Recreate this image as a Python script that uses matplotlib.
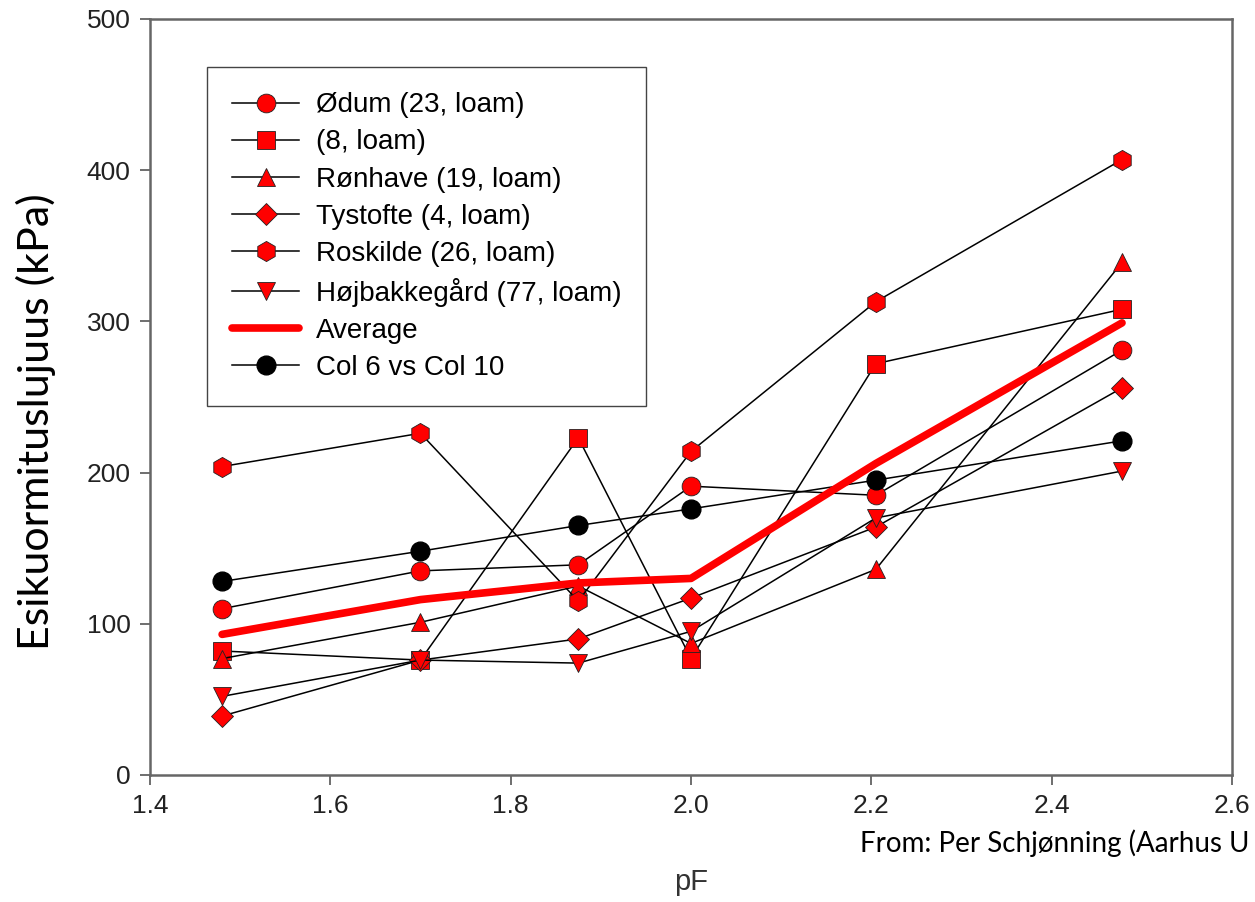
import numpy as np
import matplotlib
matplotlib.use('Agg')
import matplotlib.pyplot as plt

# pF values (x)
pf = [1.48, 1.70, 1.875, 2.0, 2.205, 2.478]

# esikuormituslujuus (kPa) per site
odum = [110, 135, 139, 191, 185, 281]
loam8 = [82, 76, 223, 77, 272, 308]
ronhave = [77, 101, 125, 87, 136, 339]
tystofte = [39, 76, 90, 117, 164, 256]
roskilde = [204, 226, 115, 214, 313, 407]
hojbakke = [52, 76, 74, 95, 170, 201]
average = [93, 116, 127, 130, 206, 299]
col6 = [128, 148, 165, 176, 195, 221]

labels = ['Ødum (23, loam)', '(8, loam)', 'Rønhave (19, loam)', 'Tystofte (4, loam)',
          'Roskilde (26, loam)', 'Højbakkegård (77, loam)', 'Average', 'Col 6 vs Col 10']

plt.rcParams['font.family'] = ['Liberation Sans', 'DejaVu Sans']

fig = plt.figure(figsize=(12.55, 9.02), dpi=100)
ax = fig.add_axes([0.1195, 0.1408, 0.8622, 0.8382])

series = [(odum, 'o', 13.5), (loam8, 's', 12.5), (ronhave, '^', 13.5), (tystofte, 'D', 11.5),
          (roskilde, 'h', 14.5), (hojbakke, 'v', 13.5)]
handles = []
for (vals, mk, ms), lab in zip(series, labels[:6]):
    h, = ax.plot(pf, vals, color='black', lw=1.1, marker=mk, ms=ms,
                 markerfacecolor='red', markeredgecolor='#222222', markeredgewidth=0.6,
                 label=lab, zorder=3)
    handles.append(h)

h_avg, = ax.plot(pf, average, color='red', lw=5.5, solid_joinstyle='round',
                 solid_capstyle='round', label=labels[6], zorder=4)
h_col, = ax.plot(pf, col6, color='black', lw=1.1, marker='o', ms=13.5,
                 markerfacecolor='black', markeredgecolor='black', label=labels[7], zorder=3)
handles += [h_avg, h_col]

ax.set_xlim(1.4, 2.6)
ax.set_ylim(0, 500)
ax.set_xticks(np.arange(1.4, 2.61, 0.2))
ax.set_xticklabels(['1.4', '1.6', '1.8', '2.0', '2.2', '2.4', '2.6'])
ax.set_yticks(range(0, 501, 100))
ax.tick_params(direction='out', length=7, width=1.2, color='#555555',
               labelsize=19, labelcolor='#222222', pad=7)
for s in ax.spines.values():
    s.set_color('#666666')
    s.set_linewidth(1.8)

ax.set_xlabel('pF', fontsize=21, color='#333333', labelpad=36)
ax.set_ylabel('Esikuormituslujuus (kPa)', fontsize=31, family=['Lato', 'DejaVu Sans'])
ax.yaxis.set_label_coords(-0.087, 0.467)

leg = ax.legend(handles=handles, loc='upper left', bbox_to_anchor=(0.053, 0.936),
                fontsize=20, frameon=True, fancybox=False, framealpha=1,
                edgecolor='#444444', handlelength=2.4, handletextpad=0.6,
                labelspacing=0.4, borderpad=0.9, borderaxespad=0)
leg.get_frame().set_linewidth(1.0)

fig.text(0.685, 0.065, 'From: Per Schjønning (Aarhus U', fontsize=20,
         family=['Lato', 'DejaVu Sans'], color='black', va='center')

fig.savefig('out.png', dpi=100)
